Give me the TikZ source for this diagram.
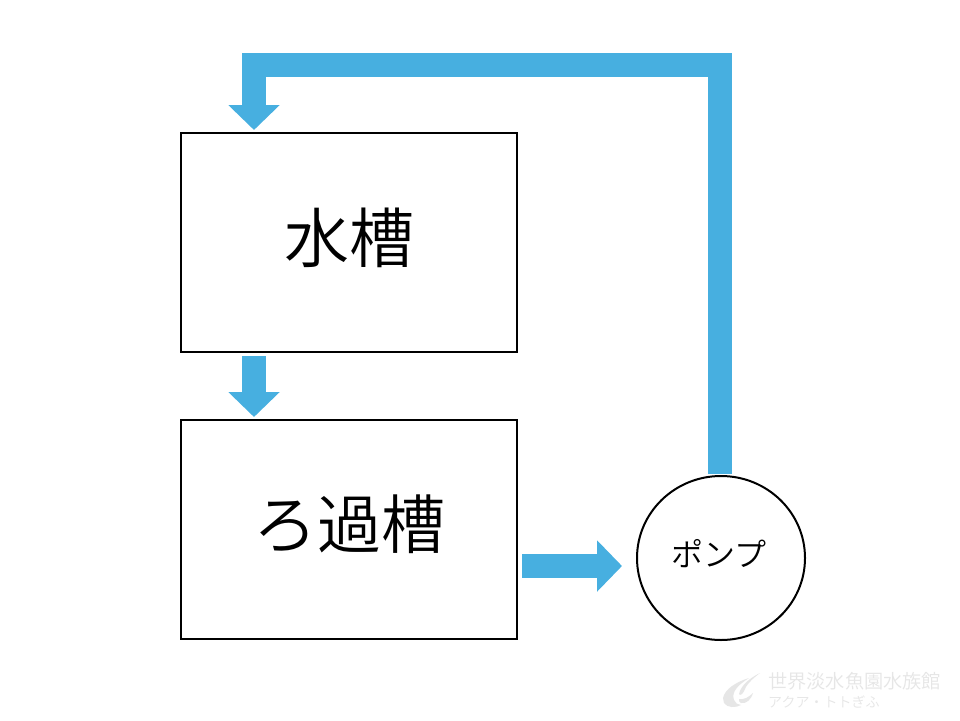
\documentclass[tikz,border=0pt]{standalone}
\usepackage{fontspec}
\setmainfont{Noto Sans CJK JP DemiLight}
\usetikzlibrary{arrows.meta,calc,shapes.geometric}
\definecolor{pipecol}{HTML}{47AFE0}
\definecolor{markcol}{HTML}{E6E6E6}
\tikzset{
  x=1pt,y=-1pt,
  tankbox/.style={draw=black,line width=2pt,fill=white,minimum width=336pt,minimum height=219pt,inner sep=0pt},
  pumpcircle/.style={ellipse,draw=black,line width=2pt,fill=white,minimum width=168pt,minimum height=164pt,inner sep=0pt},
  flow/.style={draw=pipecol,line width=24pt,line cap=butt,line join=miter,-{Triangle[length=25pt,width=50pt]}},
  marktext/.style={text=markcol,inner sep=0pt},
  markshape/.style={fill=markcol}
}
\begin{document}
\begin{tikzpicture}
\useasboundingbox (0,0) rectangle (960,720);
\fill[white] (0,0) rectangle (960,720);
\node[tankbox] (tank) at (349,242.5) {};
\node[tankbox] (filter) at (349,529.5) {};
\node[pumpcircle] (pump) at (721,558) {};
\node at (349,238) {\fontsize{65pt}{70pt}\selectfont 水槽};
\node at (349.5,524) {\fontsize{64pt}{70pt}\selectfont ろ過槽};
\node at (719,554) {\fontsize{32pt}{36pt}\selectfont ポンプ};
\draw[flow] ([xshift=-95pt,yshift=-3pt]tank.south) -- ([xshift=-95pt,yshift=2pt]filter.north);
\draw[flow] ([xshift=4pt,yshift=-36.5pt]filter.east) -- ([xshift=-14pt,yshift=-8pt]pump.west);
\draw[flow] ([xshift=-1pt,yshift=1pt]pump.north) -- ++(0,-409) -| ([xshift=-95pt,yshift=2pt]tank.north);
% watermark
\node[marktext,anchor=west] (wmA) at (768,681) {\fontsize{19.2pt}{22pt}\selectfont 世界淡水魚園水族館};
\node[marktext,anchor=west] (wmB) at (768,702) {\fontsize{14pt}{16pt}\selectfont アクア・トトぎふ};
\path[markshape] (723,698) .. controls (725,689) and (736,682) .. (749,678) .. controls (738,685) and (731,692) .. (734,700) .. controls (735,703) and (738,705) .. (741,705) .. controls (736,708) and (727,708) .. (724,703) -- cycle;
\path[markshape] (739,694) .. controls (741,685) and (750,678) .. (760,673) .. controls (752,679) and (746,685) .. (744,691) .. controls (743,694) and (740,696) .. (739,694) -- cycle;
\path[markshape] (739,699) .. controls (744,700) and (749,697) .. (753,693) .. controls (751,700) and (746,704) .. (741,703) .. controls (739,702) and (739,701) .. (739,699) -- cycle;
\end{tikzpicture}
\end{document}
